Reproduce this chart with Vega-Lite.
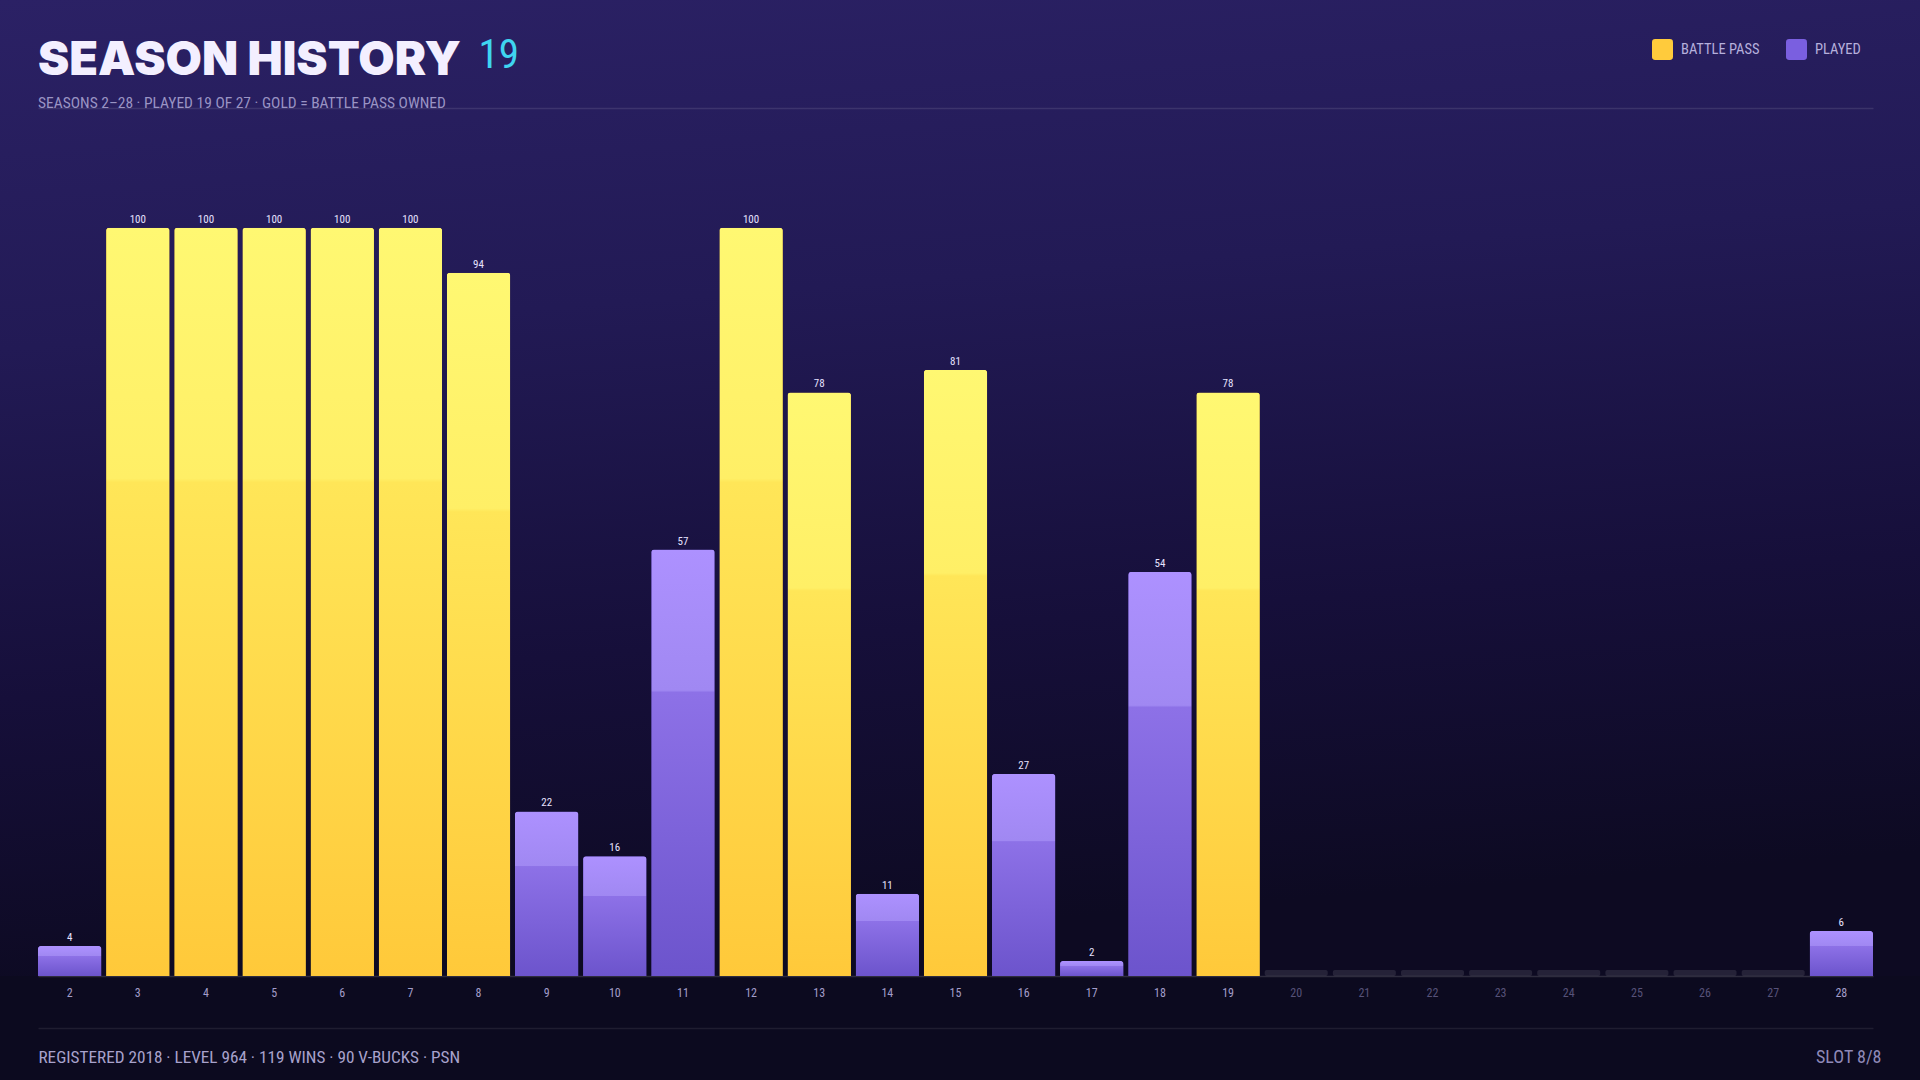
{
  "$schema": "https://vega.github.io/schema/vega-lite/v6.json",
  "width": 1920,
  "height": 1080,
  "autosize": {"type": "fit", "contains": "padding"},
  "padding": {"left": 0, "right": 0, "top": 0, "bottom": 14},
  "background": "#0c0a1f",
  "config": {
    "view": {
      "stroke": null,
      "fill": {
        "gradient": "linear",
        "x1": 0, "y1": 0, "x2": 0.15, "y2": 1,
        "stops": [
          {"offset": 0, "color": "#2b2165"},
          {"offset": 0.35, "color": "#221a55"},
          {"offset": 0.7, "color": "#160f3a"},
          {"offset": 1, "color": "#0d0a22"}
        ]
      }
    },
    "font": "Roboto Condensed, Liberation Sans Narrow, DejaVu Sans Condensed, sans-serif"
  },
  "title": {
    "text": "SEASON HISTORY",
    "subtitle": "SEASONS 2–28  ·  PLAYED 19 OF 27  ·  GOLD = BATTLE PASS OWNED",
    "orient": "top",
    "anchor": "start",
    "frame": "group",
    "dx": 38,
    "offset": -112,
    "font": "Inter, Lato, DejaVu Sans, sans-serif",
    "fontWeight": 900,
    "fontSize": 47,
    "color": "#f3efff",
    "subtitleFont": "Roboto Condensed, Liberation Sans Narrow, DejaVu Sans Condensed, sans-serif",
    "subtitleFontSize": 15.5,
    "subtitleColor": "#9a94c4",
    "subtitlePadding": 11
  },
  "data": {
    "values": [
      {"season": "2", "tier": 4, "type": "PLAYED"},
      {"season": "3", "tier": 100, "type": "BATTLE PASS"},
      {"season": "4", "tier": 100, "type": "BATTLE PASS"},
      {"season": "5", "tier": 100, "type": "BATTLE PASS"},
      {"season": "6", "tier": 100, "type": "BATTLE PASS"},
      {"season": "7", "tier": 100, "type": "BATTLE PASS"},
      {"season": "8", "tier": 94, "type": "BATTLE PASS"},
      {"season": "9", "tier": 22, "type": "PLAYED"},
      {"season": "10", "tier": 16, "type": "PLAYED"},
      {"season": "11", "tier": 57, "type": "PLAYED"},
      {"season": "12", "tier": 100, "type": "BATTLE PASS"},
      {"season": "13", "tier": 78, "type": "BATTLE PASS"},
      {"season": "14", "tier": 11, "type": "PLAYED"},
      {"season": "15", "tier": 81, "type": "BATTLE PASS"},
      {"season": "16", "tier": 27, "type": "PLAYED"},
      {"season": "17", "tier": 2, "type": "PLAYED"},
      {"season": "18", "tier": 54, "type": "PLAYED"},
      {"season": "19", "tier": 78, "type": "BATTLE PASS"},
      {"season": "20", "tier": null, "type": "NOT PLAYED"},
      {"season": "21", "tier": null, "type": "NOT PLAYED"},
      {"season": "22", "tier": null, "type": "NOT PLAYED"},
      {"season": "23", "tier": null, "type": "NOT PLAYED"},
      {"season": "24", "tier": null, "type": "NOT PLAYED"},
      {"season": "25", "tier": null, "type": "NOT PLAYED"},
      {"season": "26", "tier": null, "type": "NOT PLAYED"},
      {"season": "27", "tier": null, "type": "NOT PLAYED"},
      {"season": "28", "tier": 6, "type": "PLAYED"}
    ]
  },
  "layer": [
    {
      "transform": [{"filter": "datum.type != 'NOT PLAYED'"}],
      "mark": {"type": "bar", "cornerRadiusTopLeft": 3, "cornerRadiusTopRight": 3},
      "encoding": {
        "x": {
          "field": "season", "type": "ordinal", "sort": null,
          "scale": {
            "domain": ["2","3","4","5","6","7","8","9","10","11","12","13","14","15","16","17","18","19","20","21","22","23","24","25","26","27","28"],
            "range": [38, 1873], "paddingInner": 0.07, "paddingOuter": 0
          },
          "axis": {
            "orient": "bottom", "offset": 52,
            "domain": true, "domainColor": "#ffffff", "domainOpacity": 0.08, "domainWidth": 1.5,
            "ticks": false, "tickSize": 0, "grid": false,
            "labelAngle": 0, "labelPadding": -41, "labelFontSize": 12,
            "labelFont": "Roboto Condensed, Liberation Sans Narrow, DejaVu Sans Condensed, sans-serif",
            "labelColor": {"condition": {"test": "toNumber(datum.value) >= 20 && toNumber(datum.value) <= 27", "value": "#575279"}, "value": "#a39dc9"},
            "title": "REGISTERED 2018  ·  LEVEL 964  ·  119 WINS  ·  90 V-BUCKS  ·  PSN",
            "titleX": 38, "titleY": 34, "titleAnchor": "start", "titleAlign": "left", "titleBaseline": "alphabetic",
            "titleFont": "Roboto Condensed, Liberation Sans Narrow, DejaVu Sans Condensed, sans-serif",
            "titleFontSize": 17.2, "titleFontWeight": "normal", "titleColor": "#a8a2cc"
          }
        },
        "y": {
          "field": "tier", "type": "quantitative",
          "scale": {"domain": [0, 130.45], "nice": false},
          "axis": {
            "orient": "left",
            "values": [0],
            "grid": true, "gridColor": "#ffffff", "gridOpacity": 0.14, "gridWidth": 1.5,
            "labels": false, "ticks": false, "domain": false,
            "title": "19",
            "titleAngle": 0, "titleX": 478, "titleY": 67, "titleAlign": "left", "titleBaseline": "alphabetic",
            "titleFont": "Roboto Condensed, Liberation Sans Narrow, DejaVu Sans Condensed, sans-serif",
            "titleFontSize": 41, "titleFontWeight": "normal", "titleColor": "#3fd5f0"
          }
        },
        "color": {
          "field": "type", "type": "nominal",
          "scale": {"domain": ["BATTLE PASS", "PLAYED"], "range": ["#ffcb3c", "#7a5fe0"]},
          "legend": {
            "orient": "none", "legendX": 1652, "legendY": 39,
            "direction": "horizontal", "title": null,
            "symbolType": "M-0.7,-1H0.7Q1,-1 1,-0.7V0.7Q1,1 0.7,1H-0.7Q-1,1 -1,0.7V-0.7Q-1,-1 -0.7,-1Z",
            "symbolSize": 441, "symbolStrokeWidth": 0, "symbolOpacity": 1,
            "labelFont": "Roboto Condensed, Liberation Sans Narrow, DejaVu Sans Condensed, sans-serif",
            "labelFontSize": 14.5, "labelColor": "#b6b0dc", "labelOffset": 8,
            "columnPadding": 26, "padding": 0
          }
        }
      }
    },
    {
      "transform": [{"filter": "datum.type == 'BATTLE PASS'"}],
      "mark": {
        "type": "bar", "cornerRadiusTopLeft": 3, "cornerRadiusTopRight": 3,
        "fill": {
          "gradient": "linear", "x1": 0, "y1": 0, "x2": 0, "y2": 1,
          "stops": [
            {"offset": 0, "color": "#fff872"},
            {"offset": 0.335, "color": "#ffef66"},
            {"offset": 0.34, "color": "#ffe658"},
            {"offset": 1, "color": "#ffc93a"}
          ]
        }
      },
      "encoding": {
        "x": {"field": "season", "type": "ordinal", "sort": null, "axis": null},
        "y": {"field": "tier", "type": "quantitative", "axis": null}
      }
    },
    {
      "transform": [{"filter": "datum.type == 'PLAYED'"}],
      "mark": {
        "type": "bar", "cornerRadiusTopLeft": 3, "cornerRadiusTopRight": 3,
        "fill": {
          "gradient": "linear", "x1": 0, "y1": 0, "x2": 0, "y2": 1,
          "stops": [
            {"offset": 0, "color": "#ad91ff"},
            {"offset": 0.33, "color": "#a088f2"},
            {"offset": 0.335, "color": "#8d71e7"},
            {"offset": 1, "color": "#6c54cc"}
          ]
        }
      },
      "encoding": {
        "x": {"field": "season", "type": "ordinal", "sort": null, "axis": null},
        "y": {"field": "tier", "type": "quantitative", "axis": null}
      }
    },
    {
      "transform": [{"filter": "datum.type == 'NOT PLAYED'"}],
      "mark": {"type": "tick", "orient": "horizontal", "thickness": 6, "size": 63, "cornerRadius": 2, "color": "#ffffff", "opacity": 0.1, "yOffset": -3},
      "encoding": {
        "x": {"field": "season", "type": "ordinal", "sort": null, "axis": null},
        "y": {"datum": 0, "type": "quantitative", "axis": null}
      }
    },
    {
      "transform": [{"filter": "datum.type != 'NOT PLAYED'"}],
      "mark": {"type": "text", "baseline": "alphabetic", "dy": -5, "fontSize": 11, "color": "#e6e2ff"},
      "encoding": {
        "x": {
          "field": "season", "type": "ordinal", "sort": null,
          "axis": {
            "orient": "top", "offset": -108,
            "domain": true, "domainColor": "#ffffff", "domainOpacity": 0.1, "domainWidth": 1.5,
            "labels": false, "ticks": false, "grid": false, "title": null
          }
        },
        "y": {
          "field": "tier", "type": "quantitative",
          "axis": {
            "orient": "right",
            "labels": false, "ticks": false, "domain": false, "grid": false,
            "title": "SLOT 8/8",
            "titleAngle": 0, "titleX": -39, "titleY": 1062, "titleAlign": "right", "titleBaseline": "alphabetic",
            "titleFont": "Roboto Condensed, Liberation Sans Narrow, DejaVu Sans Condensed, sans-serif",
            "titleFontSize": 18, "titleFontWeight": "normal", "titleColor": "#8f89b8"
          }
        },
        "text": {"field": "tier", "type": "quantitative"}
      }
    }
  ],
  "resolve": {"axis": {"x": "independent", "y": "independent"}}
}
